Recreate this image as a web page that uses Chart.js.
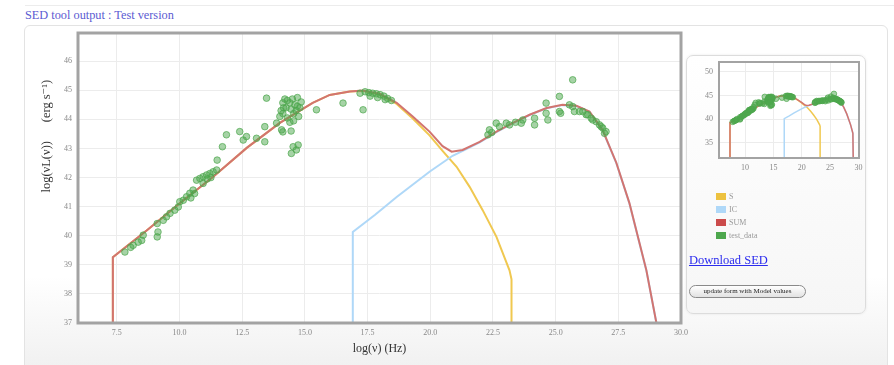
<!DOCTYPE html>
<html>
<head>
<meta charset="utf-8">
<script src="https://cdn.jsdelivr.net/npm/chart.js@4/dist/chart.umd.min.js"></script>
<style>
  html, body { margin: 0; padding: 0; }
  body { width: 894px; height: 365px; overflow: hidden; background: #fff; position: relative; font-family: 'Liberation Serif', 'DejaVu Serif', serif; }
  #topline { position: absolute; left: 25px; top: 5px; width: 869px; border-top: 1px solid #ececec; }
  #title { position: absolute; left: 25px; top: 8px; font-size: 12.3px; color: #5b5bd2; white-space: nowrap; }
  #outer { position: absolute; left: 24px; top: 25px; width: 862px; height: 360px; border: 1px solid #e3e3e3; border-radius: 6px; background: linear-gradient(#ffffff 0px, #ffffff 250px, #f1f1f1 340px); }
  #main { position: absolute; left: 30px; top: 25px; }
  #panel { position: absolute; left: 686px; top: 55px; width: 178px; height: 257px; border: 1px solid #dcdcdc; border-radius: 7px; background: linear-gradient(#ffffff, #f6f6f6); box-shadow: 0 0 3px rgba(0,0,0,0.08); }
  #mini { position: absolute; left: 688px; top: 57px; }
  #legend { position: absolute; left: 716px; top: 190px; font-size: 8px; color: #999; }
  .lrow { height: 13px; display: flex; align-items: center; }
  .sw { width: 10px; height: 7px; margin-right: 3px; }
  #dl { position: absolute; left: 689px; top: 253px; font-size: 12.5px; color: #2b2bee; text-decoration: underline; white-space: nowrap; }
  #btn { position: absolute; left: 689px; top: 285px; width: 115px; height: 11px; border: 1px solid #8a8a8a; border-radius: 7px; background: linear-gradient(#ffffff, #e2e2e2); font-size: 7px; line-height: 11px; text-align: center; color: #222; white-space: nowrap; }
</style>
</head>
<body>
<div id="topline"></div>
<div id="title">SED tool output : Test version</div>
<div id="outer"></div>
<canvas id="main" width="660" height="340"></canvas>
<div id="panel"></div>
<canvas id="mini" width="175" height="120"></canvas>
<div id="legend"></div>
<div id="dl">Download SED</div>
<div id="btn">update form with Model values</div>
<script>
// ---------- data ----------
const SERIES_NAMES = ['S', 'IC', 'SUM', 'test_data'];
const SERIES_COLORS = ['#edc240', '#afd8f8', '#cb4b4b', '#4da74d'];

const X_TICKS = [7.5, 10.0, 12.5, 15.0, 17.5, 20.0, 22.5, 25.0, 27.5, 30.0];
const Y_TICKS = [37, 38, 39, 40, 41, 42, 43, 44, 45, 46];
const MINI_X_TICKS = [10, 15, 20, 25, 30];
const MINI_Y_TICKS = [35, 40, 45, 50];

// synchrotron component  [log nu, log nuLnu]
const S_CURVE = [
  [7.34, 30], [7.34, 39.26], [8.70, 40.19], [10.01, 41.12], [11.33, 42.02], [12.68, 43.02],
  [14.00, 43.88], [15.31, 44.57], [15.99, 44.84], [16.79, 44.96], [17.30, 44.98], [17.98, 44.86],
  [18.66, 44.53], [19.30, 44.03], [19.97, 43.45], [20.49, 42.92], [21.05, 42.37], [21.57, 41.68],
  [22.09, 40.88], [22.64, 39.96], [23.16, 38.81], [23.24, 38.50], [23.24, 30]
];
// inverse Compton component
const IC_CURVE = [
  [16.91, 30], [16.91, 40.13], [17.80, 40.72], [18.66, 41.33], [19.97, 42.20], [20.89, 42.75],
  [21.50, 43.00], [21.97, 43.21], [22.64, 43.56], [23.28, 43.86], [23.96, 44.15], [24.64, 44.38],
  [25.27, 44.49], [25.83, 44.46], [26.35, 44.26], [26.87, 43.63], [27.42, 42.50], [27.94, 41.12],
  [28.62, 38.80], [29.02, 37.00], [29.10, 30]
];
// sum of components
const SUM_CURVE = [
  [7.34, 30], [7.34, 39.26], [8.70, 40.19], [10.01, 41.12], [11.33, 42.02], [12.68, 43.02],
  [14.00, 43.88], [15.31, 44.57], [15.99, 44.84], [16.79, 44.96], [17.30, 44.99], [17.98, 44.88],
  [18.66, 44.57], [19.30, 44.10], [19.97, 43.58], [20.49, 43.08], [20.85, 42.89], [21.29, 42.95],
  [21.97, 43.23], [22.64, 43.58], [23.28, 43.87], [23.96, 44.16], [24.64, 44.39], [25.27, 44.50],
  [25.83, 44.47], [26.35, 44.27], [26.87, 43.64], [27.42, 42.51], [27.94, 41.13], [28.62, 38.81],
  [29.02, 37.00], [29.10, 30]
];
// observed data points
const DATA_POINTS = [
  [7.82, 39.44], [8.05, 39.60], [8.15, 39.67], [8.35, 39.78], [8.49, 39.84], [8.55, 40.02],
  [9.11, 39.96], [9.14, 40.13], [9.11, 40.42], [9.35, 40.53], [9.48, 40.65], [9.62, 40.77],
  [9.81, 40.88], [9.95, 40.99], [10.01, 41.17], [10.15, 41.22], [10.28, 41.34], [10.41, 41.46],
  [10.54, 41.57], [10.45, 41.30], [10.60, 41.45], [10.68, 41.91], [10.81, 41.97], [10.94, 42.03],
  [11.08, 42.09], [11.21, 42.14], [11.34, 42.20], [11.48, 42.26], [10.94, 41.80], [11.10, 41.95],
  [11.25, 42.00], [11.50, 42.60], [11.71, 43.06], [11.87, 43.47], [12.40, 43.58], [12.54, 43.29],
  [12.67, 43.41], [13.07, 43.35], [13.40, 43.75], [13.40, 43.23], [13.47, 44.73], [13.87, 43.87],
  [14.00, 44.10], [14.07, 43.64],
  [14.12, 44.57], [14.20, 44.70], [14.30, 44.65], [14.40, 44.57], [14.50, 44.70], [14.60, 44.50],
  [14.70, 44.45], [14.80, 44.40], [14.25, 44.40], [14.45, 44.35], [14.55, 44.20], [14.65, 44.30],
  [14.12, 44.20], [14.40, 43.90], [14.55, 43.95], [14.75, 44.10], [14.30, 44.05], [14.85, 44.60],
  [14.70, 44.75], [14.15, 44.40], [14.05, 44.30],
  [14.53, 43.06], [14.66, 42.95], [14.46, 42.83], [14.73, 43.12], [14.12, 43.57], [14.45, 43.60],
  [15.46, 44.33], [16.52, 44.56], [17.32, 44.33],
  [17.20, 44.90], [17.40, 44.95], [17.55, 44.92], [17.70, 44.90], [17.85, 44.88], [18.00, 44.85],
  [18.15, 44.80], [18.30, 44.72], [18.45, 44.65], [17.60, 44.80], [17.90, 44.75], [18.20, 44.68],
  [22.30, 43.47], [22.36, 43.64], [22.45, 43.55], [22.63, 43.87], [22.76, 43.75], [23.03, 43.87],
  [23.16, 43.81], [23.40, 43.90], [23.63, 43.87], [23.69, 43.98], [24.16, 44.04], [24.16, 43.81],
  [24.62, 44.56], [24.62, 44.21], [24.69, 43.98], [25.15, 44.79], [25.15, 44.27], [25.20, 44.21],
  [25.55, 44.50], [25.68, 45.36], [25.68, 44.44], [25.75, 44.27], [25.95, 44.27], [26.08, 44.27],
  [26.22, 44.16], [26.28, 44.16], [26.42, 44.04], [26.48, 43.98], [26.62, 43.92], [26.75, 43.81],
  [26.82, 43.75], [26.88, 43.70], [26.95, 43.52], [27.01, 43.58]
];

// ---------- helpers ----------
const FONT = "'Liberation Serif', 'DejaVu Serif', serif";
const toXY = arr => arr.map(p => ({ x: p[0], y: p[1] }));

const framePlugin = {
  id: 'frame',
  beforeDraw(chart) {
    const { ctx, chartArea: a } = chart;
    ctx.save();
    ctx.fillStyle = '#ffffff';
    ctx.fillRect(a.left, a.top, a.right - a.left, a.bottom - a.top);
    ctx.restore();
  },
  afterDraw(chart, args, opts) {
    const { ctx, chartArea: a } = chart;
    ctx.save();
    ctx.strokeStyle = opts.color || '#a0a0a0';
    ctx.lineWidth = opts.width || 2;
    ctx.strokeRect(a.left, a.top, a.right - a.left, a.bottom - a.top);
    ctx.restore();
  }
};

function makeDatasets(lineW, pr) {
  return [
    { label: SERIES_NAMES[3], data: toXY(DATA_POINTS), showLine: false, order: 0,
      pointRadius: pr, pointHoverRadius: pr, pointBorderWidth: 1,
      backgroundColor: 'rgba(77,167,77,0.5)', borderColor: 'rgba(77,167,77,0.7)' },
    { label: SERIES_NAMES[2], data: toXY(SUM_CURVE), showLine: true, order: 1,
      borderColor: '#d27470', borderWidth: lineW, pointRadius: 0, tension: 0 },
    { label: SERIES_NAMES[1], data: toXY(IC_CURVE), showLine: true, order: 2,
      borderColor: SERIES_COLORS[1], borderWidth: lineW, pointRadius: 0, tension: 0 },
    { label: SERIES_NAMES[0], data: toXY(S_CURVE), showLine: true, order: 3,
      borderColor: '#f0c850', borderWidth: lineW, pointRadius: 0, tension: 0 }
  ];
}

// ---------- main chart ----------
new Chart(document.getElementById('main'), {
  type: 'scatter',
  data: { datasets: makeDatasets(2, 3.3) },
  options: {
    responsive: false, animation: false, devicePixelRatio: 1,
    layout: { padding: { left: 0, top: 8, right: 9, bottom: 7 } },
    plugins: { legend: { display: false }, tooltip: { enabled: false }, frame: { color: '#a3a3a3', width: 3 } },
    scales: {
      x: {
        type: 'linear', min: 5.95, max: 30,
        afterBuildTicks: s => { s.ticks = X_TICKS.map(v => ({ value: v })); },
        afterFit: s => { s.height = 35; s.paddingLeft = 0; s.paddingRight = 0; },
        ticks: { callback: v => Number(v).toFixed(1), font: { family: FONT, size: 8 }, color: '#888', padding: 5, maxRotation: 0, autoSkip: false },
        grid: { color: '#ececec', drawTicks: false },
        border: { display: false },
        title: { display: true, text: 'log(ν) (Hz)', font: { family: FONT, size: 12 }, color: '#333', padding: { top: 0, bottom: 2 } }
      },
      y: {
        type: 'linear', min: 37, max: 46.97,
        afterBuildTicks: s => { s.ticks = Y_TICKS.map(v => ({ value: v })); },
        afterFit: s => { s.width = 48; s.paddingTop = 0; s.paddingBottom = 0; },
        ticks: { font: { family: FONT, size: 8 }, color: '#888', padding: 6, autoSkip: false },
        grid: { color: '#ececec', drawTicks: false },
        border: { display: false },
        title: { display: true, align: 'end', text: 'log(νL(ν))      (erg s⁻¹)' + ' '.repeat(15), font: { family: FONT, size: 12.5 }, color: '#333', padding: { top: 9, bottom: 0 } }
      }
    }
  },
  plugins: [framePlugin]
});

// ---------- mini chart ----------
new Chart(document.getElementById('mini'), {
  type: 'scatter',
  data: { datasets: makeDatasets(1.5, 2.8) },
  options: {
    responsive: false, animation: false, devicePixelRatio: 1,
    layout: { padding: { left: 0, top: 5, right: 4, bottom: 3 } },
    plugins: { legend: { display: false }, tooltip: { enabled: false }, frame: { color: '#a3a3a3', width: 2 } },
    scales: {
      x: {
        type: 'linear', min: 5.4, max: 30.1,
        afterBuildTicks: s => { s.ticks = MINI_X_TICKS.map(v => ({ value: v })); },
        afterFit: s => { s.height = 16; s.paddingLeft = 0; s.paddingRight = 0; },
        ticks: { font: { family: FONT, size: 8 }, color: '#888', padding: 5, maxRotation: 0, autoSkip: false },
        grid: { color: '#ececec', drawTicks: false },
        border: { display: false }
      },
      y: {
        type: 'linear', min: 31.8, max: 52.1,
        afterBuildTicks: s => { s.ticks = MINI_Y_TICKS.map(v => ({ value: v })); },
        afterFit: s => { s.width = 31; s.paddingTop = 0; s.paddingBottom = 0; },
        ticks: { font: { family: FONT, size: 8 }, color: '#888', padding: 6, autoSkip: false },
        grid: { color: '#ececec', drawTicks: false },
        border: { display: false }
      }
    }
  },
  plugins: [framePlugin]
});

// ---------- legend ----------
const legend = document.getElementById('legend');
SERIES_NAMES.forEach((name, i) => {
  const row = document.createElement('div');
  row.className = 'lrow';
  const sw = document.createElement('div');
  sw.className = 'sw';
  sw.style.background = SERIES_COLORS[i];
  const lab = document.createElement('span');
  lab.textContent = name;
  row.appendChild(sw); row.appendChild(lab);
  legend.appendChild(row);
});
</script>
</body>
</html>
